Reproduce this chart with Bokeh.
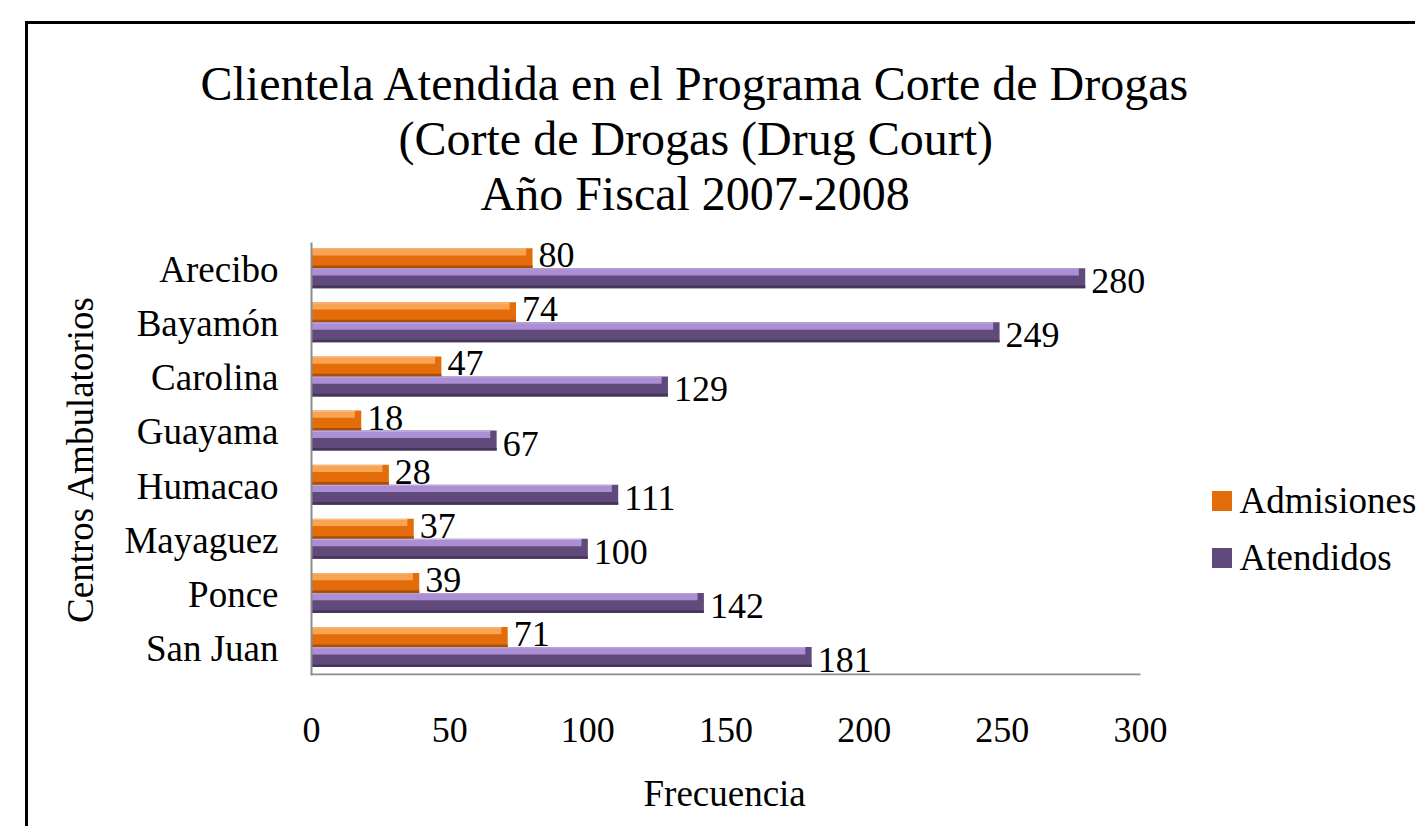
import numpy as np
from bokeh.plotting import figure
from bokeh.models import (ColumnDataSource, FactorRange, Range1d, FixedTicker,
                          LabelSet, Legend, LegendItem, Title, BoxAnnotation)
from bokeh.transform import dodge
from bokeh.embed import file_html
from bokeh.resources import INLINE

# ---------------- data ----------------
categories = ["Arecibo", "Bayamón", "Carolina", "Guayama",
              "Humacao", "Mayaguez", "Ponce", "San Juan"]
admisiones = [80, 74, 47, 18, 28, 37, 39, 71]
atendidos = [280, 249, 129, 67, 111, 100, 142, 181]
series_names = ["Admisiones", "Atendidos"]
x_ticks = [0, 50, 100, 150, 200, 250, 300]
title_lines = ["Clientela Atendida en el Programa Corte de Drogas",
               "(Corte de Drogas (Drug Court)",
               "Año Fiscal 2007-2008"]
x_title = "Frecuencia"
y_title = "Centros Ambulatorios"

# ---------------- style ----------------
FONT = "Liberation Serif"
ORANGE, ORANGE_HI, ORANGE_LO = "#E46C0A", "#F8A452", "#A95008"
PURPLE, PURPLE_HI, PURPLE_LO = "#604A7B", "#AC8ED4", "#45355A"
BEVEL = 2.3          # bevel length at bar end (x units)
BAR_H = 0.37
OFF_ADM, OFF_ATE = 0.21, -0.16
AXIS_GREY = "#8C8C8C"

src = ColumnDataSource(dict(
    cat=categories,
    adm=admisiones,
    ate=atendidos,
    adm_hl=np.array(admisiones, dtype=float) - BEVEL,
    ate_hl=np.array(atendidos, dtype=float) - BEVEL,
    adm_txt=[str(v) for v in admisiones],
    ate_txt=[str(v) for v in atendidos],
))

W, H = 1390, 805
FL, FT, FH = 283, 218, 433
FW = W - FL                      # frame runs to the right edge (room for legend)
SCALE_W = 829                    # pixels spanned by the 0-300 scale
X_END = x_ticks[-1] * FW / SCALE_W

p = figure(width=W, height=H,
           y_range=FactorRange(*reversed(categories)),
           x_range=Range1d(0, X_END),
           output_backend="svg", toolbar_location=None,
           min_border_left=FL, min_border_right=0,
           min_border_top=FT, min_border_bottom=H - FT - FH)
p.styles = {"margin-left": "25px", "margin-top": "21px",
            "border-left": "3px solid black", "border-top": "3px solid black"}
p.outline_line_color = None
p.xgrid.visible = False
p.ygrid.visible = False
p.background_fill_color = "white"
p.border_fill_color = "white"

yr = p.y_range


def bar(off, right, color, hi, lo, hl_field):
    main = p.hbar(y=dodge("cat", off, range=yr), left=0, right=right,
                  height=BAR_H, fill_color=color, line_color=None, source=src)
    p.hbar(y=dodge("cat", off + BAR_H / 2 - 0.07, range=yr), left=0,
           right=hl_field, height=0.13, fill_color=hi, line_color=None,
           source=src)
    p.hbar(y=dodge("cat", off + BAR_H / 2 - 0.01, range=yr), left=0,
           right=hl_field, height=0.02, fill_color="white", fill_alpha=0.3,
           line_color=None, source=src)
    p.hbar(y=dodge("cat", off - BAR_H / 2 + 0.025, range=yr), left=0,
           right=right, height=0.05, fill_color=lo, line_color=None,
           source=src)
    return main


r_adm = bar(OFF_ADM, "adm", ORANGE, ORANGE_HI, ORANGE_LO, "adm_hl")
r_ate = bar(OFF_ATE, "ate", PURPLE, PURPLE_HI, PURPLE_LO, "ate_hl")

for field, txt, off, yo in [("adm", "adm_txt", OFF_ADM, 3),
                            ("ate", "ate_txt", OFF_ATE, -3)]:
    p.add_layout(LabelSet(x=field, y=dodge("cat", off, range=yr), text=txt,
                          source=src, x_offset=6, y_offset=yo,
                          text_baseline="middle", text_align="left",
                          text_font=FONT, text_font_size="36px",
                          text_color="black"))

# axes
p.xaxis.ticker = FixedTicker(ticks=x_ticks)
for ax in (p.xaxis[0], p.yaxis[0]):
    ax.axis_line_color = AXIS_GREY
    ax.axis_line_width = 2
    ax.major_tick_line_color = None
    ax.minor_tick_line_color = None
    ax.major_tick_out = 0
    ax.major_tick_in = 0
    ax.major_label_text_font = FONT
    ax.major_label_text_color = "black"
    ax.axis_label_text_font = FONT
    ax.axis_label_text_font_style = "normal"
    ax.axis_label_text_color = "black"
    ax.axis_label_text_font_size = "37px"

p.xaxis.axis_line_color = None
p.xaxis.major_label_text_font_size = "36px"
p.xaxis.major_label_standoff = 42

p.yaxis.major_label_text_font_size = "37px"
p.yaxis.major_label_standoff = 33
p.yaxis.axis_label = y_title
p.yaxis.axis_label_standoff = 20

# horizontal axis line, only over the 0-300 scale
p.add_layout(BoxAnnotation(left=x_ticks[0], right=x_ticks[-1], bottom=0, top=2,
                           bottom_units="screen", top_units="screen",
                           fill_color=AXIS_GREY, fill_alpha=1,
                           line_color=None))

# horizontal-axis title, centred under the 0-300 scale (spacer above it)
p.add_layout(Title(text=" ", text_font_size="23px", standoff=0), "below")
p.add_layout(Title(text=x_title, align="left", offset=332, standoff=0,
                   vertical_align="top", text_font=FONT,
                   text_font_size="37px", text_font_style="normal",
                   text_color="black"), "below")

# chart title: three lines, stacked upward from the frame
p.add_layout(Title(text=" ", text_font_size="19px", standoff=0), "above")
offsets = [-111, 87, 169]
for line, off in reversed(list(zip(title_lines, offsets))):
    p.add_layout(Title(text=line, align="left", offset=off, standoff=0,
                       text_font=FONT, text_font_size="48px",
                       text_font_style="normal", text_color="black"),
                 "above")

legend = Legend(items=[LegendItem(label=series_names[0], renderers=[r_adm]),
                       LegendItem(label=series_names[1], renderers=[r_ate])],
                location=(897.5, 96.5),
                glyph_width=25, glyph_height=25,
                label_text_font=FONT, label_text_font_size="37px",
                label_text_color="black", label_standoff=6, spacing=14,
                padding=0, margin=0, border_line_color=None,
                background_fill_alpha=0)
p.add_layout(legend)

open("out.html", "w").write(file_html(p, INLINE))
